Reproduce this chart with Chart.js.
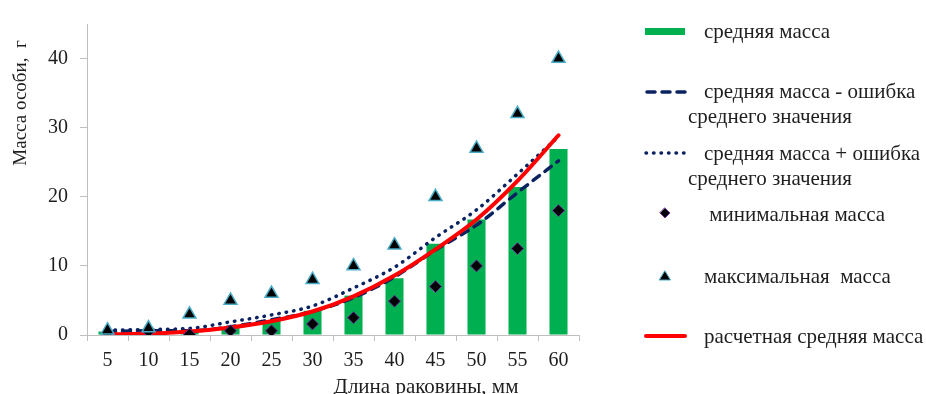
<!DOCTYPE html>
<html>
<head>
  <meta charset="utf-8">
  <title>Масса особи и длина раковины</title>
  <script src="https://cdn.jsdelivr.net/npm/chart.js"></script>
  <style>
    body { margin: 0; background: #fff; }
    #massChart { display: block; }
  </style>
</head>
<body>
  <canvas id="massChart" width="926" height="394"></canvas>

  <script>
    // shell length classes, mm
    const lengths = ['5', '10', '15', '20', '25', '30', '35', '40', '45', '50', '55', '60'];

    // mass values, g
    const meanMass      = [0.5, 0.8, 0.6, 1.1, 2.1, 3.5, 5.7, 8.2, 13.2, 16.7, 21.4, 26.9];
    const meanMinusErr  = [0.5, 0.6, 0.6, 1.2, 2.2, 3.4, 5.4, 8.4, 12.3, 15.9, 20.6, 25.2];
    const meanPlusErr   = [0.7, 0.8, 0.95, 1.9, 2.9, 4.2, 6.8, 9.8, 14.1, 18.1, 23.3, 28.7];
    const minMass       = [0.3, 0.5, 0.1, 0.6, 0.6, 1.6, 2.5, 4.9, 7.0, 10.0, 12.5, 18.0];
    const maxMass       = [0.7, 1.0, 3.0, 5.0, 6.0, 8.0, 10.0, 13.0, 20.0, 27.0, 32.0, 40.0];
    const calcMass      = [0.1, 0.2, 0.5, 1.1, 2.0, 3.4, 5.6, 8.6, 12.4, 16.7, 22.3, 28.9];

    const yTicks = [0, 10, 20, 30, 40];

    const legendText = [
      ['средняя масса'],
      ['средняя масса - ошибка', 'среднего значения'],
      ['средняя масса + ошибка', 'среднего значения'],
      [' минимальная масса'],
      ['максимальная  масса'],
      ['расчетная средняя масса']
    ];

    const serif = "'Liberation Serif', 'Times New Roman', serif";
    const axisGray = '#bfbfbf';
    const navy = '#0b2260';

    // axis titles + excel-like legend, drawn straight on the canvas
    const extrasPlugin = {
      id: 'extras',
      afterDraw(chart) {
        const ctx = chart.ctx;
        ctx.save();
        ctx.fillStyle = '#1e1e1e';

        // axis titles
        ctx.font = '19px ' + serif;
        ctx.textAlign = 'center';
        ctx.textBaseline = 'middle';
        ctx.save();
        ctx.translate(21, 103);
        ctx.rotate(-Math.PI / 2);
        ctx.fillText('Масса особи,  г', 0, 0);
        ctx.restore();
        ctx.font = '21px ' + serif;
        ctx.textBaseline = 'alphabetic';
        ctx.fillText('Длина раковины, мм', 426, 393);

        // legend
        const rows = [32, 92, 154, 215, 277, 337];
        ctx.font = '21px ' + serif;
        ctx.textAlign = 'left';
        ctx.textBaseline = 'middle';
        legendText.forEach((lines, i) => {
          const y = rows[i];
          ctx.fillStyle = '#1e1e1e';
          ctx.fillText(lines[0], 704, y);
          if (lines[1]) ctx.fillText(lines[1], 688, y + 25);
        });

        // samples
        ctx.fillStyle = '#00b050';
        ctx.fillRect(645, 28, 40, 7);

        ctx.lineCap = 'round';
        ctx.strokeStyle = navy;
        ctx.lineWidth = 3.5;
        ctx.setLineDash([8, 7]);
        ctx.beginPath(); ctx.moveTo(647, 92); ctx.lineTo(685, 92); ctx.stroke();
        ctx.setLineDash([0.5, 7]);
        ctx.beginPath(); ctx.moveTo(646, 153); ctx.lineTo(684, 153); ctx.stroke();
        ctx.setLineDash([]);

        ctx.strokeStyle = '#ff0000';
        ctx.lineWidth = 4;
        ctx.beginPath(); ctx.moveTo(646, 336); ctx.lineTo(685, 336); ctx.stroke();

        // diamond
        ctx.fillStyle = '#000';
        ctx.strokeStyle = '#7030a0';
        ctx.lineWidth = 1;
        ctx.beginPath();
        ctx.moveTo(665, 208); ctx.lineTo(670, 213); ctx.lineTo(665, 218); ctx.lineTo(660, 213);
        ctx.closePath(); ctx.fill(); ctx.stroke();

        // triangle
        ctx.strokeStyle = '#4bacc6';
        ctx.beginPath();
        ctx.moveTo(665, 271); ctx.lineTo(670.5, 280); ctx.lineTo(659.5, 280);
        ctx.closePath(); ctx.fill(); ctx.stroke();

        ctx.restore();
      }
    };

    const ctx = document.getElementById('massChart').getContext('2d');
    new Chart(ctx, {
      type: 'bar',
      data: {
        labels: lengths,
        datasets: [
          {
            type: 'line',
            label: 'максимальная масса',
            data: maxMass,
            showLine: false,
            pointStyle: 'triangle',
            pointRadius: 7.5,
            backgroundColor: '#000',
            borderColor: '#4bacc6',
            pointBorderWidth: 1.5,
            order: 1
          },
          {
            type: 'line',
            label: 'минимальная масса',
            data: minMass,
            showLine: false,
            pointStyle: 'rectRot',
            pointRadius: 6,
            backgroundColor: '#000',
            borderColor: '#7030a0',
            pointBorderWidth: 1,
            order: 2
          },
          {
            type: 'line',
            label: 'расчетная средняя масса',
            data: calcMass,
            borderColor: '#ff0000',
            borderWidth: 4,
            borderCapStyle: 'round',
            pointRadius: 0,
            cubicInterpolationMode: 'monotone',
            fill: false,
            order: 3
          },
          {
            type: 'line',
            label: 'средняя масса - ошибка среднего значения',
            data: meanMinusErr,
            borderColor: navy,
            borderWidth: 3.5,
            borderDash: [8, 7],
            borderCapStyle: 'round',
            pointRadius: 0,
            cubicInterpolationMode: 'monotone',
            fill: false,
            order: 4
          },
          {
            type: 'line',
            label: 'средняя масса + ошибка среднего значения',
            data: meanPlusErr,
            borderColor: navy,
            borderWidth: 3.5,
            borderDash: [0.5, 7],
            borderCapStyle: 'round',
            pointRadius: 0,
            cubicInterpolationMode: 'monotone',
            fill: false,
            order: 5
          },
          {
            label: 'средняя масса',
            data: meanMass,
            backgroundColor: '#00b050',
            categoryPercentage: 1,
            barPercentage: 0.44,
            order: 10
          }
        ]
      },
      options: {
        responsive: false,
        animation: false,
        layout: { padding: { top: 16, right: 347, left: 0, bottom: 0 } },
        plugins: {
          legend: { display: false },
          tooltip: { enabled: false },
          title: { display: false }
        },
        scales: {
          x: {
            afterFit: s => { s.height = 59; },
            grid: {
              display: true,
              drawOnChartArea: false,
              tickLength: 6,
              color: axisGray,
              offset: true
            },
            border: { color: axisGray, width: 1 },
            ticks: {
              font: { family: serif, size: 20 },
              color: '#1e1e1e',
              padding: 8,
              maxRotation: 0
            }
          },
          y: {
            min: 0,
            max: 45,
            afterFit: s => { s.width = 87; },
            afterBuildTicks: s => { s.ticks = yTicks.map(v => ({ value: v })); },
            grid: {
              display: true,
              drawOnChartArea: false,
              tickLength: 7,
              color: axisGray
            },
            border: { color: axisGray, width: 1 },
            ticks: {
              font: { family: serif, size: 20 },
              color: '#1e1e1e',
              padding: 12
            }
          }
        }
      },
      plugins: [extrasPlugin]
    });
  </script>
</body>
</html>
